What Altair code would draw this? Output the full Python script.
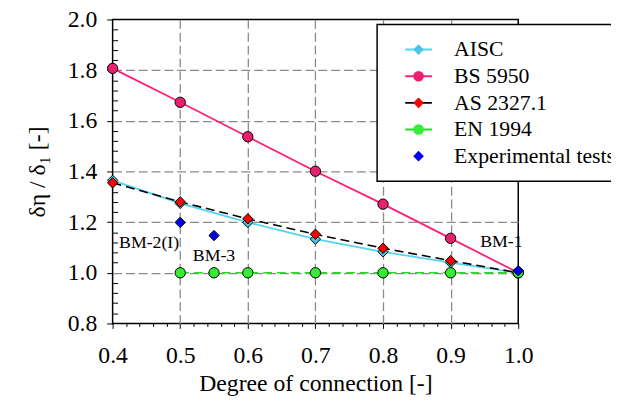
import altair as alt
import pandas as pd

# ---- data ----
ratio = [0.4, 0.5, 0.6, 0.7, 0.8, 0.9, 1.0]
aisc = [1.365, 1.274, 1.199, 1.133, 1.083, 1.040, 1.0]
bs5950 = [1.807, 1.673, 1.537, 1.401, 1.271, 1.136, 1.0]
as2327 = [1.355, 1.280, 1.213, 1.152, 1.097, 1.048, 1.0]
en_ratio = [0.5, 0.55, 0.6, 0.7, 0.8, 0.9, 1.0]
en1994 = [1.0, 1.0, 1.0, 1.0, 1.0, 1.0, 1.0]
exp_ratio = [0.5, 0.55, 1.0]
exp_vals = [1.199, 1.147, 1.008]

ann_text = ["BM-2(I)", "BM-3", "BM-1"]
ann_x = [0.454, 0.55, 0.975]
ann_y = [1.116, 1.065, 1.123]

series = ["AISC", "BS 5950", "AS 2327.1", "EN 1994", "Experimental tests"]
marker_keys = ["AISC ", "BS 5950 ", "AS 2327.1 ", "EN 1994 ", "Experimental tests "]
line_colors = ["#55d3f2", "#ff1f7a", "#000000", "#22dd22", "transparent"]
marker_colors = ["#4cc6e6", "#e8206e", "#ff0000", "#33ee33", "#0000ee"]
marker_shapes = ["diamond", "circle", "diamond", "circle", "diamond"]

x_major = [0.4, 0.5, 0.6, 0.7, 0.8, 0.9, 1.0]
x_grid = [0.5, 0.6, 0.7, 0.8, 0.9]
x_minor = [0.42, 0.44, 0.46, 0.48, 0.52, 0.54, 0.56, 0.58, 0.62, 0.64, 0.66, 0.68,
           0.72, 0.74, 0.76, 0.78, 0.82, 0.84, 0.86, 0.88, 0.92, 0.94, 0.96, 0.98]
y_major = [0.8, 1.0, 1.2, 1.4, 1.6, 1.8, 2.0]
y_grid = [1.0, 1.2, 1.4, 1.6, 1.8]
y_minor = [0.84, 0.88, 0.92, 0.96, 1.04, 1.08, 1.12, 1.16, 1.24, 1.28, 1.32, 1.36,
           1.44, 1.48, 1.52, 1.56, 1.64, 1.68, 1.72, 1.76, 1.84, 1.88, 1.92, 1.96]

# ---- tables ----
def rows(items, key):
    out = []
    for name, xs, ys in items:
        for a, b in zip(xs, ys):
            out.append({"x": a, "y": b, key: name})
    return pd.DataFrame(out)

solid_df = rows([("AISC", ratio, aisc), ("BS 5950", ratio, bs5950)], "series")
dashed_df = rows([("AS 2327.1", ratio, as2327), ("EN 1994", en_ratio, en1994)], "series")
pts_df = rows([("AISC ", ratio, aisc), ("BS 5950 ", ratio, bs5950),
               ("AS 2327.1 ", ratio, as2327), ("EN 1994 ", en_ratio, en1994),
               ("Experimental tests ", exp_ratio, exp_vals)], "key")
ann_df = pd.DataFrame({"x": ann_x, "y": ann_y, "label": ann_text})

FONT = "Liberation Serif"
xscale = alt.Scale(domain=[0.4, 1.0], nice=False, zero=False)
yscale = alt.Scale(domain=[0.8, 2.0], nice=False, zero=False)

grid_x = alt.Axis(orient="bottom", values=x_grid, grid=True, gridColor="#8a8a8a",
                  gridDash=[9, 4], gridWidth=1.3,
                  ticks=False, labels=False, domain=False, title=None)
grid_y = alt.Axis(orient="left", values=y_grid, grid=True, gridColor="#8a8a8a",
                  gridDash=[9, 4], gridWidth=1.3,
                  ticks=False, labels=False, domain=False, title=None)

major_x = alt.Axis(orient="bottom", values=x_major, format=".1f", grid=False, domain=False,
                   ticks=True, tickSize=5, tickColor="black", tickWidth=1, labelFlush=False,
                   labelFont=FONT, labelFontSize=24, labelColor="black", labelPadding=16,
                   title="Degree of connection [-]", titleFont=FONT, titleFontSize=24,
                   titleFontWeight="normal", titleColor="black", titlePadding=4)
major_y = alt.Axis(orient="left", values=y_major, format=".1f", grid=False, domain=False,
                   ticks=True, tickSize=6, tickColor="black", tickWidth=1, labelFlush=False,
                   labelFont=FONT, labelFontSize=24, labelColor="black", labelPadding=10,
                   title="δη / δ₁  [-]", titleFont=FONT, titleFontSize=24,
                   titleFontWeight="normal", titleColor="black", titlePadding=18)

minor_x = alt.Axis(orient="bottom", values=x_minor, labels=False, ticks=True, tickSize=3,
                   tickColor="black", tickWidth=1, domain=False, grid=False, title=None)
minor_y = alt.Axis(orient="left", values=y_minor, labels=False, ticks=True, tickSize=5,
                   tickColor="black", tickWidth=1, domain=False, grid=False, title=None,
                   offset=-5)

legend_common = dict(title=None, orient="none", legendX=268, legendY=5, padding=12,
                     clipHeight=27, rowPadding=0, symbolSize=117, symbolOffset=19,
                     labelOffset=25, labelFont=FONT, labelFontSize=22, labelLimit=400,
                     symbolLimit=0, cornerRadius=0)

legend_lines = alt.Legend(symbolType="M-2.5,0L2.5,0", symbolStrokeWidth=2,
                          labelColor="black", strokeColor="black", fillColor="white",
                          zindex=1, **legend_common)
legend_marks = alt.Legend(labelOpacity=0, symbolStrokeColor="black", symbolStrokeWidth=1,
                          strokeColor="transparent", zindex=2, **legend_common)

color_scale = alt.Scale(domain=series, range=line_colors)

solid_layer = alt.Chart(solid_df).mark_line(strokeWidth=1.8).encode(
    x=alt.X("x:Q", scale=xscale, axis=grid_x),
    y=alt.Y("y:Q", scale=yscale, axis=grid_y),
    color=alt.Color("series:N", scale=color_scale, legend=legend_lines),
)

dashed_layer = alt.Chart(dashed_df).mark_line(strokeWidth=1.6, strokeDash=[9, 5]).encode(
    x=alt.X("x:Q", scale=xscale, axis=None),
    y=alt.Y("y:Q", scale=yscale, axis=None),
    color=alt.Color("series:N", scale=color_scale, legend=None),
)

point_layer = alt.Chart(pts_df).mark_point(filled=True, stroke="black", strokeWidth=1,
                                           size=110, opacity=1).encode(
    x=alt.X("x:Q", scale=xscale, axis=major_x),
    y=alt.Y("y:Q", scale=yscale, axis=major_y),
    fill=alt.Fill("key:N", scale=alt.Scale(domain=marker_keys, range=marker_colors),
                  legend=legend_marks),
    shape=alt.Shape("key:N", scale=alt.Scale(domain=marker_keys, range=marker_shapes),
                    legend=legend_marks),
)

text_layer = alt.Chart(ann_df).mark_text(font=FONT, fontSize=18, color="black").encode(
    x=alt.X("x:Q", scale=xscale, axis=minor_x),
    y=alt.Y("y:Q", scale=yscale, axis=minor_y),
    text="label:N",
)

chart = alt.layer(solid_layer, dashed_layer, point_layer, text_layer).resolve_axis(
    x="independent", y="independent"
).properties(
    width=411, height=308,
    autosize=alt.AutoSizeParams(type="none"),
    padding={"left": 106, "top": 9, "right": 94, "bottom": 80},
    background="white",
).configure_view(stroke="black", strokeWidth=1.5).configure_legend(strokeWidth=1.5)

chart.save("out.html", embed_options={"renderer": "svg", "actions": False})
